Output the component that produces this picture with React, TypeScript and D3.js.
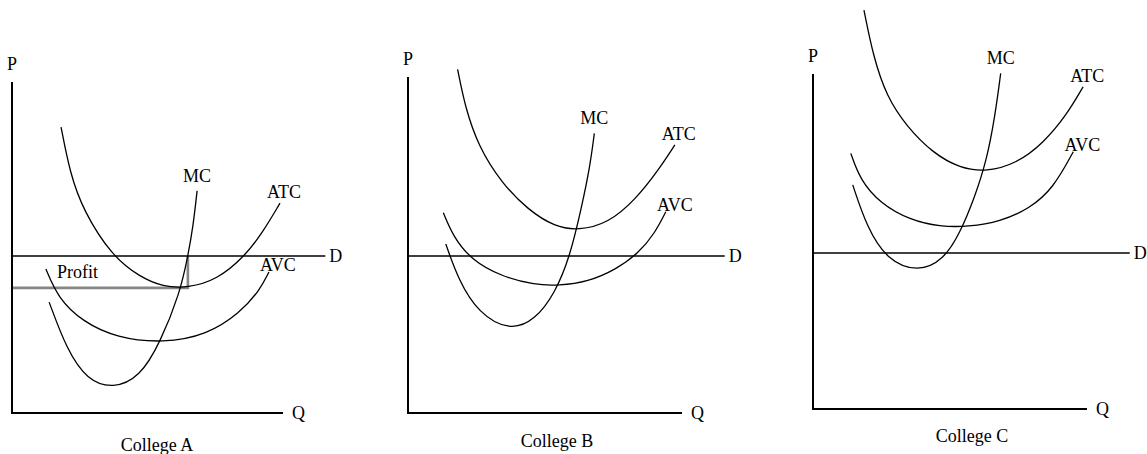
import React, { useEffect, useRef } from "react";
import * as d3 from "d3";

type Pt = [number, number]; // [Q, P], each axis runs 0–100

// College A
const mcA: Pt[] = [[13.7, 33.5], [20.3, 19.0], [27.7, 10.0], [37.3, 7.3], [47.2, 10.9], [54.6, 21.1], [62.0, 36.3], [64.9, 47.4], [66.8, 56.2], [68.3, 67.1]];
const atcA: Pt[] = [[18.1, 86.4], [21.4, 72.5], [26.2, 61.3], [36.9, 47.4], [47.2, 41.1], [55.7, 38.1], [64.9, 37.8], [75.6, 40.2], [86.0, 47.4], [92.6, 54.7], [98.9, 63.4]];
const avcA: Pt[] = [[12.5, 43.5], [17.0, 34.7], [26.2, 27.5], [38.7, 22.7], [55.7, 21.1], [72.0, 23.6], [84.1, 30.2], [91.5, 37.2], [94.8, 42.6]];
const demandA = 47.4;
const profitQ = 64.9;
const profitAtc = 37.8;

// College B
const mcB: Pt[] = [[13.8, 50.3], [18.4, 39.6], [25.7, 29.7], [37.2, 24.4], [46.4, 27.7], [53.6, 35.6], [59.1, 46.5], [63.4, 61.4], [66.4, 73.3], [68.0, 83.2]];
const atcB: Pt[] = [[18.1, 102.3], [20.8, 91.2], [25.7, 79.3], [34.2, 68.4], [43.9, 60.4], [53.6, 55.4], [62.2, 54.3], [73.1, 56.5], [82.9, 63.4], [91.4, 72.3], [97.4, 79.8]];
const avcB: Pt[] = [[12.9, 59.6], [16.5, 52.5], [23.2, 45.5], [34.2, 40.6], [46.4, 38.1], [54.9, 37.9], [65.8, 39.1], [75.6, 42.6], [84.1, 47.5], [90.1, 53.5], [94.1, 59.9]];
const demandB = 46.7;

// College C
const mcC: Pt[] = [[14.5, 66.9], [19.6, 54.4], [26.9, 44.5], [38.4, 40.8], [47.6, 44.5], [53.6, 52.4], [59.1, 63.4], [63.4, 74.3], [66.4, 87.3], [68.5, 100.2]];
const atcC: Pt[] = [[18.6, 119.1], [22.0, 105.2], [26.9, 93.2], [34.2, 84.3], [43.9, 76.3], [53.6, 71.9], [63.4, 70.8], [74.3, 73.3], [84.0, 79.3], [92.6, 87.8], [98.6, 96.2]];
const avcC: Pt[] = [[13.8, 76.3], [17.2, 68.4], [24.5, 61.4], [35.4, 56.4], [46.4, 54.4], [56.7, 54.4], [68.2, 55.9], [79.2, 59.9], [87.7, 65.9], [95.0, 76.8]];
const demandC = 46.6;

const demandEndQ = 115.6;

const panels = [
  { name: "College A", mc: mcA, atc: atcA, avc: avcA, demand: demandA, profit: true, x0: 12, x1: 283, y0: 413, y1: 82, captionX: 157, captionY: 451 },
  { name: "College B", mc: mcB, atc: atcB, avc: avcB, demand: demandB, profit: false, x0: 408, x1: 682, y0: 413, y1: 77, captionX: 557, captionY: 447 },
  { name: "College C", mc: mcC, atc: atcC, avc: avcC, demand: demandC, profit: false, x0: 813, x1: 1087, y0: 409, y1: 74, captionX: 972, captionY: 442 },
];

const W = 1147;
const H = 454;
const FONT = "'Liberation Serif', 'Times New Roman', serif";

export default function App() {
  const svgRef = useRef<SVGSVGElement>(null);

  useEffect(() => {
    const svg = d3.select(svgRef.current);
    svg.selectAll("*").remove();

    panels.forEach(p => {
      const x = d3.scaleLinear().domain([0, 100]).range([p.x0, p.x1]);
      const y = d3.scaleLinear().domain([0, 100]).range([p.y0, p.y1]);
      const g = svg.append("g");

      const line = d3.line<Pt>()
        .x(d => x(d[0]))
        .y(d => y(d[1]))
        .curve(d3.curveBasis);

      const text = (tx: number, ty: number, s: string, anchor = "middle") =>
        g.append("text")
          .attr("x", tx)
          .attr("y", ty)
          .attr("text-anchor", anchor)
          .style("font-family", FONT)
          .style("font-size", "18px")
          .attr("fill", "#000")
          .text(s);

      // profit rectangle (gray bottom + right edge)
      if (p.profit) {
        g.append("path")
          .attr("d", `M${x(0)},${y(profitAtc)}H${x(profitQ)}V${y(p.demand)}`)
          .attr("fill", "none")
          .attr("stroke", "#858585")
          .attr("stroke-width", 2.6);
        text(x(16.6), y(40.8), "Profit", "start");
      }

      // axes
      g.append("path")
        .attr("d", `M${x(0)},${y(100)}V${y(0)}H${x(100)}`)
        .attr("fill", "none")
        .attr("stroke", "#000")
        .attr("stroke-width", 2);

      // demand
      g.append("line")
        .attr("x1", x(0)).attr("x2", x(demandEndQ))
        .attr("y1", y(p.demand)).attr("y2", y(p.demand))
        .attr("stroke", "#000")
        .attr("stroke-width", 1.5);

      // cost curves
      [p.mc, p.atc, p.avc].forEach(c => {
        g.append("path")
          .attr("d", line(c))
          .attr("fill", "none")
          .attr("stroke", "#000")
          .attr("stroke-width", 1.3);
      });

      const end = (c: Pt[]) => c[c.length - 1];
      const mcE = end(p.mc), atcE = end(p.atc), avcE = end(p.avc);
      text(x(mcE[0]), y(mcE[1]) - 9, "MC");
      text(x(atcE[0]) + 4, y(atcE[1]) - 5, "ATC");
      text(x(avcE[0]) + 9, y(avcE[1]) - 1, "AVC");

      // axis labels
      text(x(0), y(100) - 12, "P");
      text(x(100) + 9, y(0) + 6, "Q", "start");
      text(x(demandEndQ) + 4, y(p.demand) + 6, "D", "start");
      text(p.captionX, p.captionY, p.name);
    });
  }, []);

  return (
    <svg
      ref={svgRef}
      width={W}
      height={H}
      style={{ position: "absolute", left: 0, top: 0, background: "#fff" }}
    />
  );
}
